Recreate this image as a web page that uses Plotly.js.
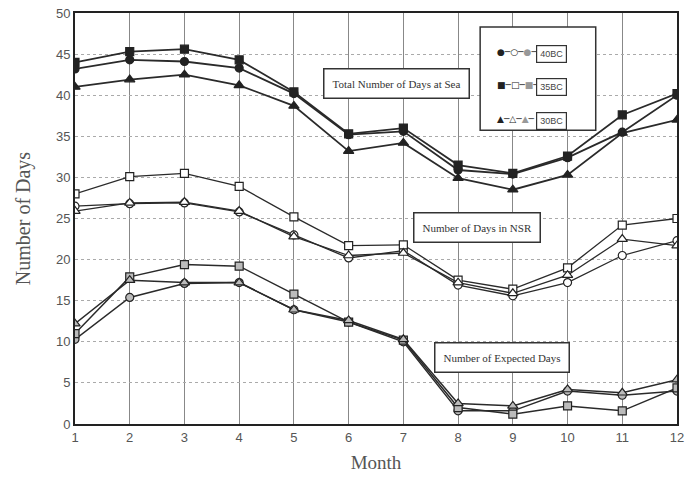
<!DOCTYPE html>
<html>
<head>
<meta charset="utf-8">
<script src="https://cdn.plot.ly/plotly-3.0.1.min.js"></script>
<style>html,body{margin:0;padding:0;background:#fff;}#chart{width:689px;height:495px;}</style>
</head>
<body>
<div id="chart"></div>
<script>
var months = [1,2,3,4,5,6,7,8,9,10,11,12];
var seriesNames = ["40BC","35BC","30BC"];

// Total Number of Days at Sea
var total40 = [43.2, 44.3, 44.1, 43.3, 40.2, 35.2, 35.6, 30.9, 30.4, 32.4, 35.5, 40.0];
var total35 = [44.0, 45.3, 45.6, 44.3, 40.4, 35.3, 36.0, 31.5, 30.5, 32.6, 37.6, 40.2];
var total30 = [41.0, 41.9, 42.5, 41.2, 38.7, 33.2, 34.2, 29.9, 28.5, 30.3, 35.4, 37.0];

// Number of Days in NSR
var nsr40 = [26.5, 26.8, 26.9, 25.8, 23.0, 20.2, 21.1, 16.9, 15.6, 17.2, 20.5, 22.3];
var nsr35 = [28.0, 30.1, 30.5, 28.9, 25.2, 21.7, 21.8, 17.5, 16.4, 19.0, 24.2, 25.0];
var nsr30 = [25.9, 26.9, 27.0, 25.9, 22.8, 20.5, 20.8, 17.2, 15.9, 18.1, 22.5, 21.7];

// Number of Expected Days
var exp40 = [10.3, 15.4, 17.1, 17.2, 13.9, 12.4, 10.0, 1.6, 1.6, 4.0, 3.5, 4.0];
var exp35 = [11.0, 17.9, 19.4, 19.2, 15.8, 12.4, 10.2, 2.0, 1.2, 2.2, 1.6, 4.4];
var exp30 = [12.2, 17.5, 17.2, 17.2, 13.9, 12.6, 10.3, 2.5, 2.2, 4.2, 3.8, 5.4];

var groupLabels = ["Total Number of Days at Sea", "Number of Days in NSR", "Number of Expected Days"];

var symbols = ["circle","square","triangle-up"];
var lineCol = "#2a2a2a";

function tr(y, sym, fill, lw, name) {
  return {
    x: months, y: y, type: "scatter", mode: "lines+markers", name: name, showlegend: false,
    line: {color: lineCol, width: lw},
    marker: {symbol: sym, size: sym === "triangle-up" ? 9 : 8, color: fill, line: {color: "#222", width: 1.2}},
    hoverinfo: "x+y"
  };
}

var data = [
  tr(total40, symbols[0], "#222", 1.8, seriesNames[0]),
  tr(total35, symbols[1], "#222", 1.8, seriesNames[1]),
  tr(total30, symbols[2], "#222", 1.8, seriesNames[2]),
  tr(nsr40, symbols[0], "#fff", 1.3, seriesNames[0]),
  tr(nsr35, symbols[1], "#fff", 1.3, seriesNames[1]),
  tr(nsr30, symbols[2], "#fff", 1.3, seriesNames[2]),
  tr(exp40, symbols[0], "#bbb", 1.5, seriesNames[0]),
  tr(exp35, symbols[1], "#bbb", 1.5, seriesNames[1]),
  tr(exp30, symbols[2], "#bbb", 1.5, seriesNames[2])
];

var serif = "Liberation Serif, Times New Roman, serif";
var sans = "Liberation Sans, Arial, sans-serif";

function boxNote(x, y, text, size) {
  return {
    x: x, y: y, xref: "x", yref: "y", text: text, showarrow: false,
    font: {family: serif, size: size, color: "#333"},
    bgcolor: "#fff", bordercolor: "#333", borderwidth: 1.5, borderpad: 8
  };
}

var annotations = [
  boxNote(6.87, 41.4, groupLabels[0], 11),
  boxNote(8.35, 23.9, groupLabels[1], 11),
  boxNote(8.80, 8.1, groupLabels[2], 11)
];

var legRowsY = [0.922, 0.842, 0.759];
var legGlyphs = [
  "●─○─<span style='color:#999'>●</span>─",
  "■─□─<span style='color:#999'>■</span>─",
  "▲─△─<span style='color:#999'>▲</span>─"
];
for (var i = 0; i < 3; i++) {
  annotations.push({
    x: 0.698, y: legRowsY[i], xref: "paper", yref: "paper", xanchor: "left", text: legGlyphs[i], showarrow: false,
    font: {family: "DejaVu Sans, sans-serif", size: 9, color: "#222"}
  });
  annotations.push({
    x: 0.818, y: legRowsY[i], xref: "paper", yref: "paper", text: seriesNames[i], showarrow: false,
    font: {family: sans, size: 9, color: "#444"},
    bgcolor: "#fff", bordercolor: "#333", borderwidth: 1.2, borderpad: 3
  });
}

var layout = {
  width: 689, height: 495,
  margin: {l: 75, r: 12, t: 13, b: 71},
  paper_bgcolor: "#fff", plot_bgcolor: "#fff",
  showlegend: false,
  xaxis: {
    range: [1, 12], dtick: 1, tick0: 1, showgrid: true, gridcolor: "#888", gridwidth: 1,
    showline: true, linecolor: "#222", linewidth: 2, mirror: true, zeroline: false,
    ticks: "", tickfont: {family: sans, size: 13, color: "#555"},
    title: {text: "Month", font: {family: serif, size: 19, color: "#555"}, standoff: 12}
  },
  yaxis: {
    range: [0, 50], dtick: 5, tick0: 0, showgrid: true, gridcolor: "#aaa", gridwidth: 1, griddash: "dot",
    showline: true, linecolor: "#222", linewidth: 2, mirror: true, zeroline: false,
    ticks: "", tickfont: {family: sans, size: 13, color: "#555"},
    title: {text: "Number of Days", font: {family: serif, size: 20, color: "#555"}, standoff: 20}
  },
  shapes: [{
    type: "rect", xref: "paper", yref: "paper", x0: 0.673, x1: 0.865, y0: 0.715, y1: 0.966,
    line: {color: "#333", width: 1.5}, fillcolor: "#fff", layer: "above"
  }],
  annotations: annotations
};

Plotly.newPlot("chart", data, layout, {displayModeBar: false, staticPlot: true});
</script>
</body>
</html>
